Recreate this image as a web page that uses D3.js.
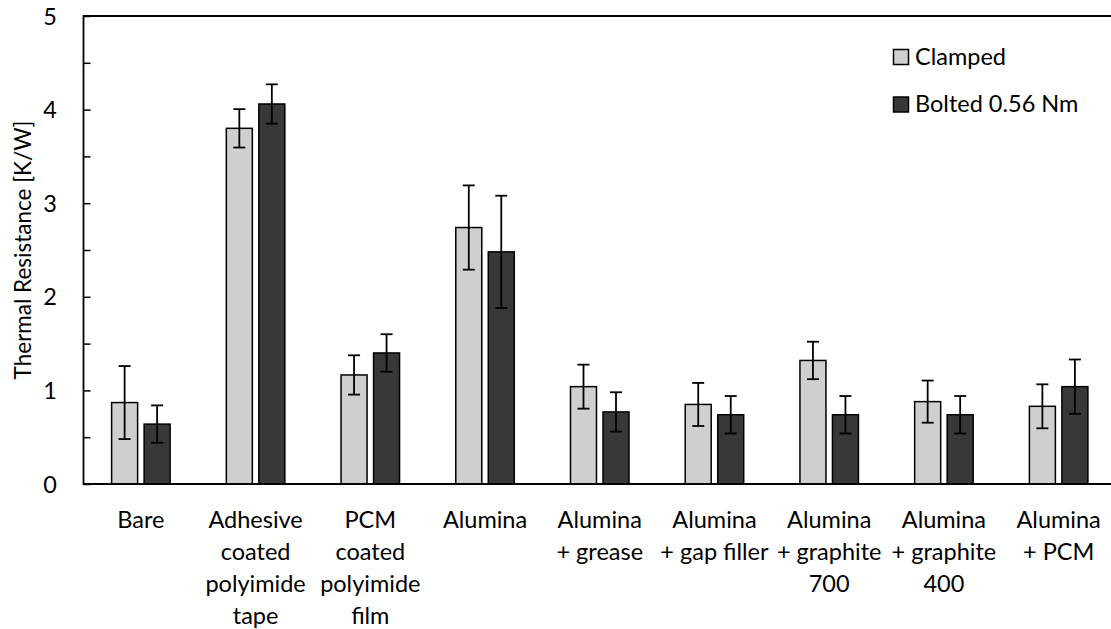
<!DOCTYPE html>
<html>
<head>
<meta charset="utf-8">
<script src="https://cdn.jsdelivr.net/npm/d3@7"></script>
<style>
  html, body { margin: 0; padding: 0; background: #fff; }
  svg { display: block; }
  text { font-family: Lato, "Open Sans", sans-serif; fill: #000; }
</style>
</head>
<body>
<div id="chart"></div>
<script>
// ---- data ----
const categories = [
  ["Bare"],
  ["Adhesive", "coated", "polyimide", "tape"],
  ["PCM", "coated", "polyimide", "film"],
  ["Alumina"],
  ["Alumina", "+ grease"],
  ["Alumina", "+ gap filler"],
  ["Alumina", "+ graphite", "700"],
  ["Alumina", "+ graphite", "400"],
  ["Alumina", "+ PCM"]
];
const seriesNames = ["Clamped", "Bolted 0.56 Nm"];
const clampedValues = [0.87, 3.80, 1.165, 2.74, 1.04, 0.85, 1.32, 0.88, 0.83];
const clampedErrors = [0.39, 0.205, 0.21, 0.45, 0.235, 0.23, 0.20, 0.225, 0.235];
const boltedValues  = [0.64, 4.06, 1.40, 2.48, 0.77, 0.74, 0.74, 0.74, 1.04];
const boltedErrors  = [0.20, 0.21, 0.20, 0.60, 0.21, 0.20, 0.20, 0.20, 0.29];
const yTicks = [0, 1, 2, 3, 4, 5];
const yMinorTicks = [0, 0.5, 1, 1.5, 2, 2.5, 3, 3.5, 4, 4.5, 5];
const seriesColors = ["#d0cfd0", "#3a3836"];

(function () {
const W = 1111, H = 629;
const svg = d3.select("#chart").append("svg").attr("width", W).attr("height", H);

const pLeft = 83.5, pRight = 1116, pTop = 16, pBottom = 484;
const fs = "23.5px";

const x0 = d3.scaleBand().domain(d3.range(categories.length))
  .range([pLeft, pRight]).paddingInner(0.49).paddingOuter(0.245);
const x1 = d3.scaleBand().domain([0, 1]).range([0, x0.bandwidth()]).paddingInner(0.2);
const y = d3.scaleLinear().domain([0, 5]).range([pBottom, pTop]);

const series = [
  { values: clampedValues, errors: clampedErrors },
  { values: boltedValues, errors: boltedErrors }
];

// bars
series.forEach((s, si) => {
  const g = svg.append("g");
  g.selectAll("rect").data(s.values).join("rect")
    .attr("x", (d, i) => x0(i) + x1(si))
    .attr("y", d => y(d))
    .attr("width", x1.bandwidth())
    .attr("height", d => y(0) - y(d))
    .attr("fill", seriesColors[si])
    .attr("stroke", "#000")
    .attr("stroke-width", 1.5);
});

// error bars
series.forEach((s, si) => {
  const g = svg.append("g").attr("stroke", "#000").attr("stroke-width", 1.8);
  s.values.forEach((v, i) => {
    const cx = x0(i) + x1(si) + x1.bandwidth() / 2;
    const hi = y(v + s.errors[i]), lo = y(v - s.errors[i]);
    g.append("line").attr("x1", cx).attr("x2", cx).attr("y1", hi).attr("y2", lo);
    g.append("line").attr("x1", cx - 6).attr("x2", cx + 6).attr("y1", hi).attr("y2", hi);
    g.append("line").attr("x1", cx - 6).attr("x2", cx + 6).attr("y1", lo).attr("y2", lo);
  });
});

// y axis ticks (inside)
const yAxis = d3.axisLeft(y).tickValues(yMinorTicks).tickSize(-7).tickFormat("");
const gy = svg.append("g").attr("transform", `translate(${pLeft},0)`).call(yAxis);
gy.select(".domain").remove();
gy.selectAll(".tick line").attr("stroke", "#000").attr("stroke-width", 1.5);

svg.append("g").selectAll("text").data(yTicks).join("text")
  .attr("x", 57).attr("y", d => y(d) + 8.5)
  .attr("text-anchor", "end")
  .style("font-size", fs)
  .text(d => d);

// frame lines
svg.append("line").attr("x1", pLeft).attr("x2", W).attr("y1", pTop).attr("y2", pTop)
  .attr("stroke", "#000").attr("stroke-width", 1.8);
svg.append("line").attr("x1", pLeft).attr("x2", W).attr("y1", pBottom).attr("y2", pBottom)
  .attr("stroke", "#000").attr("stroke-width", 1.8);
svg.append("line").attr("x1", pLeft).attr("x2", pLeft).attr("y1", pTop - 0.9).attr("y2", pBottom + 0.9)
  .attr("stroke", "#000").attr("stroke-width", 1.8);

// x labels
const xl = svg.append("g");
categories.forEach((lines, i) => {
  const cx = x0(i) + x0.bandwidth() / 2;
  const t = xl.append("text").attr("text-anchor", "middle").style("font-size", fs);
  lines.forEach((ln, j) => {
    t.append("tspan").attr("x", cx).attr("y", 528 + j * 32).text(ln);
  });
});

// y title
svg.append("text")
  .attr("transform", `translate(31,${(pTop + pBottom) / 2}) rotate(-90)`)
  .attr("text-anchor", "middle")
  .style("font-size", "22.5px")
  .text("Thermal Resistance [K/W]");

// legend
const lg = svg.append("g");
seriesNames.forEach((name, i) => {
  const yy = 49.5 + i * 47.5;
  lg.append("rect").attr("x", 893.5).attr("y", yy).attr("width", 15).attr("height", 15)
    .attr("fill", seriesColors[i]).attr("stroke", "#000").attr("stroke-width", 1.5);
  lg.append("text").attr("x", 915).attr("y", yy + 15).style("font-size", fs).text(name);
});
})();
</script>
</body>
</html>
